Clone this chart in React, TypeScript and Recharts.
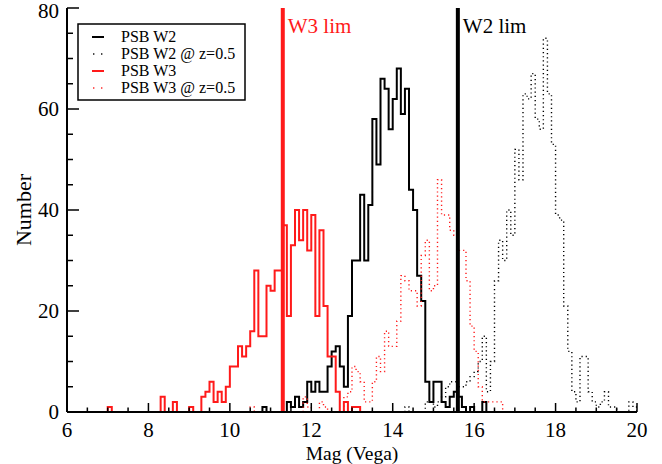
import { ComposedChart, Line, XAxis, YAxis, ReferenceLine, Legend } from "recharts"

const BIN = 0.1

// counts per 0.1 mag bin, first bin starts at *Start
const w2Start = 10.8
const w2Counts = [
  1, 0, 0, 0, 0, 0, 2, 1, 3, 1, 2, 6, 4, 6, 4, 4, 9, 12, 13, 9, 5, 19, 30, 30, 43, 30,
  41, 58, 49, 66, 64, 56, 62, 68, 59, 64, 44, 40, 27, 22, 6, 2, 6, 6, 2, 1, 3, 4, 3, 1,
  0, 1, 0, 0, 2,
]

const w2zStart = 14.3
const w2zCounts = [
  1, 0, 0, 0, 0, 2, 2, 1, 2, 3, 5, 6, 6, 5, 5, 6, 7, 8, 10, 15, 4, 10, 26, 34, 30, 40,
  35, 52, 46, 63, 62, 67, 58, 56, 74, 63, 53, 39, 38, 21, 12, 4, 2, 11, 11, 4, 2, 1, 2,
  4, 1, 1, 0, 0, 0, 2, 1,
]

const w3Start = 7.0
const w3Counts = [
  1, 0, 0, 0, 0, 0, 0, 0, 0, 0, 0, 0, 0, 3, 0, 0, 2, 0, 0, 0, 1, 0, 0, 3, 4, 6, 2, 4, 2,
  5, 9, 9, 13, 11, 13, 16, 28, 15, 15, 25, 24, 28, 28, 37, 19, 33, 40, 34, 40, 32, 39,
  19, 36, 21, 11, 11, 4, 0, 2, 0, 1, 1,
]

const w3zStart = 10.5
const w3zCounts = [
  1, 0, 0, 0, 0, 0, 0, 0, 0, 0, 0, 0, 0, 3, 1, 0, 0, 2, 1, 0, 0, 0, 0, 3, 4, 9, 8, 6, 2,
  2, 6, 11, 8, 16, 13, 13, 18, 27, 26, 24, 24, 21, 31, 34, 24, 25, 46, 39, 39, 36, 35,
  32, 32, 26, 17, 12, 5, 2, 2, 2, 2, 2,
]

const w3Limit = 11.3
const w2Limit = 15.6

const xTicks = [6, 6.5, 7, 7.5, 8, 8.5, 9, 9.5, 10, 10.5, 11, 11.5, 12, 12.5, 13, 13.5, 14, 14.5, 15, 15.5, 16, 16.5, 17, 17.5, 18, 18.5, 19, 19.5, 20]
const xLabels = [6, 8, 10, 12, 14, 16, 18, 20]
const yTicks = [0, 5, 10, 15, 20, 25, 30, 35, 40, 45, 50, 55, 60, 65, 70, 75, 80]
const yLabels = [0, 20, 40, 60, 80]

const FONT = "Liberation Serif"
const RED = "#ff1a1a"

function toSteps(start: number, counts: number[]) {
  const pts = [{ x: start, y: 0 }]
  counts.forEach((c, i) => pts.push({ x: +(start + i * BIN).toFixed(2), y: c }))
  pts.push({ x: +(start + counts.length * BIN).toFixed(2), y: 0 })
  return pts
}

const series = [
  { name: "PSB W2", data: toSteps(w2Start, w2Counts), color: "#000", dotted: false },
  { name: "PSB W2 @ z=0.5", data: toSteps(w2zStart, w2zCounts), color: "#000", dotted: true },
  { name: "PSB W3", data: toSteps(w3Start, w3Counts), color: RED, dotted: false },
  { name: "PSB W3 @ z=0.5", data: toSteps(w3zStart, w3zCounts), color: RED, dotted: true },
]

const BottomTick = ({ x, y, payload }: any) => {
  const major = xLabels.includes(payload.value)
  return (
    <g>
      <line x1={x} x2={x} y1={y} y2={y - (major ? 9 : 4.5)} stroke="#000" strokeWidth={1.5} />
      {major && (
        <text x={x} y={y + 25} textAnchor="middle" fontFamily={FONT} fontSize={21} fill="#000">
          {payload.value}
        </text>
      )}
    </g>
  )
}

const TopTick = ({ x, y, payload }: any) => {
  const major = xLabels.includes(payload.value)
  return <line x1={x} x2={x} y1={y} y2={y + (major ? 9 : 4.5)} stroke="#000" strokeWidth={1.5} />
}

const LeftTick = ({ x, y, payload }: any) => {
  const major = yLabels.includes(payload.value)
  return (
    <g>
      <line x1={x} x2={x + (major ? 12 : 6)} y1={y} y2={y} stroke="#000" strokeWidth={1.5} />
      {major && (
        <text x={x - 8} y={Math.max(y + 7, 18)} textAnchor="end" fontFamily={FONT} fontSize={21} fill="#000">
          {payload.value}
        </text>
      )}
    </g>
  )
}

const RightTick = ({ x, y, payload }: any) => {
  const major = yLabels.includes(payload.value)
  return <line x1={x} x2={x - (major ? 12 : 6)} y1={y} y2={y} stroke="#000" strokeWidth={1.5} />
}

const XTitle = ({ viewBox }: any) => (
  <text x={viewBox.x + viewBox.width / 2} y={viewBox.y + 47.5} textAnchor="middle" fontFamily={FONT} fontSize={19.5} fill="#000">
    Mag (Vega)
  </text>
)

const YTitle = ({ viewBox }: any) => {
  const cy = viewBox.y + viewBox.height / 2
  return (
    <text x={31} y={cy} transform={`rotate(-90 31 ${cy})`} textAnchor="middle" fontFamily={FONT} fontSize={22} fill="#000">
      Number
    </text>
  )
}

const LimLabel = ({ viewBox, text, color }: any) => (
  <text x={viewBox.x + 5} y={33} fontFamily={FONT} fontSize={21} fill={color}>
    {text}
  </text>
)

const LegendBox = () => (
  <svg width={170} height={78} style={{ display: "block" }}>
    <rect x={1} y={1} width={167} height={76} fill="#fff" stroke="#000" strokeWidth={1.5} />
    {series.map((s, i) => {
      const base = 19 + i * 17
      const mid = base - 5
      return (
        <g key={s.name}>
          {s.dotted ? (
            <g fill={s.color}>
              <rect x={16} y={mid - 0.7} width={1.4} height={1.4} />
              <rect x={24} y={mid - 0.7} width={1.4} height={1.4} />
            </g>
          ) : (
            <line x1={15} x2={27} y1={mid} y2={mid} stroke={s.color} strokeWidth={2} />
          )}
          <text x={44} y={base} fontFamily={FONT} fontSize={16} fill="#000">
            {s.name}
          </text>
        </g>
      )
    })}
  </svg>
)

export default function App() {
  return (
    <div style={{ position: "absolute", left: 0, top: 0, width: 662, height: 464, background: "#fff" }}>
      <ComposedChart width={662} height={464} margin={{ top: 8, right: 25, bottom: 0, left: 0 }}>
        <XAxis
          type="number"
          dataKey="x"
          domain={[6, 20]}
          allowDataOverflow
          ticks={xTicks}
          interval={0}
          height={52}
          tickSize={0}
          tickMargin={0}
          tick={BottomTick}
          axisLine={{ stroke: "#000", strokeWidth: 2 }}
          label={<XTitle />}
        />
        <XAxis
          xAxisId="top"
          orientation="top"
          type="number"
          dataKey="x"
          domain={[6, 20]}
          allowDataOverflow
          ticks={xTicks}
          interval={0}
          height={0}
          tickSize={0}
          tickMargin={0}
          tick={TopTick}
          axisLine={{ stroke: "#000", strokeWidth: 2 }}
        />
        <YAxis
          type="number"
          domain={[0, 80]}
          allowDataOverflow
          ticks={yTicks}
          interval={0}
          width={67}
          tickSize={0}
          tickMargin={0}
          tick={LeftTick}
          axisLine={{ stroke: "#000", strokeWidth: 2 }}
          label={<YTitle />}
        />
        <YAxis
          yAxisId="right"
          orientation="right"
          type="number"
          domain={[0, 80]}
          allowDataOverflow
          ticks={yTicks}
          interval={0}
          width={0}
          tickSize={0}
          tickMargin={0}
          tick={RightTick}
          axisLine={{ stroke: "#000", strokeWidth: 2 }}
        />
        {series.map((s) => (
          <Line
            key={s.name}
            data={s.data}
            dataKey="y"
            name={s.name}
            type="stepAfter"
            stroke={s.color}
            strokeWidth={s.dotted ? 1.4 : 2}
            strokeDasharray={s.dotted ? "1.2 3" : undefined}
            dot={false}
            activeDot={false}
            isAnimationActive={false}
          />
        ))}
        <ReferenceLine x={w3Limit} stroke={RED} strokeWidth={4} label={<LimLabel text="W3 lim" color={RED} />} />
        <ReferenceLine x={w2Limit} stroke="#000" strokeWidth={4} label={<LimLabel text="W2 lim" color="#000" />} />
        <Legend
          layout="vertical"
          align="center"
          verticalAlign="middle"
          content={<LegendBox />}
          wrapperStyle={{ left: 77, top: 23, width: 170, height: 78 }}
        />
      </ComposedChart>
    </div>
  )
}
